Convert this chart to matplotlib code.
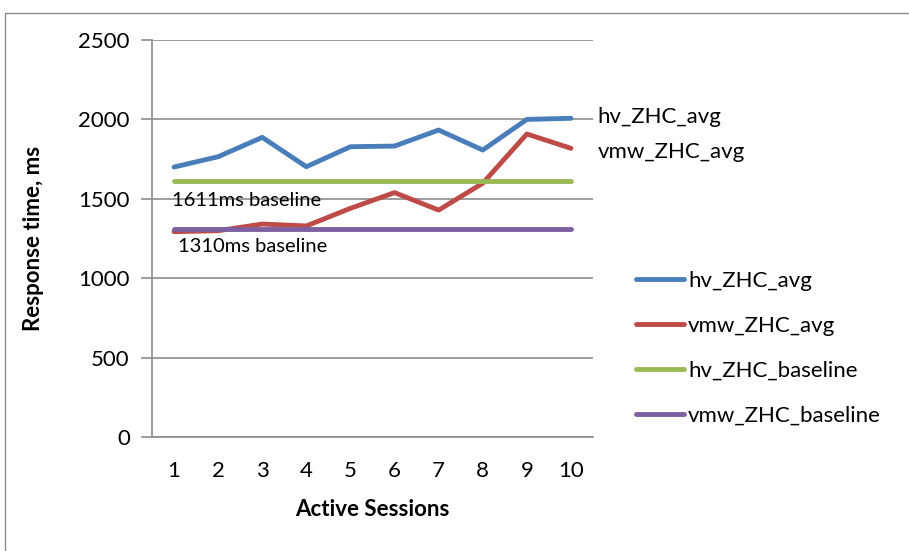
import matplotlib.pyplot as plt
from matplotlib.patches import Rectangle

plt.rcParams['font.family'] = ['Lato', 'DejaVu Sans']

sessions = [1, 2, 3, 4, 5, 6, 7, 8, 9, 10]
hv_avg = [1700, 1765, 1887, 1702, 1828, 1832, 1933, 1807, 2000, 2007]
vmw_avg = [1293, 1299, 1341, 1329, 1440, 1539, 1429, 1598, 1908, 1818]
hv_baseline = [1611] * 10
vmw_baseline = [1310] * 10
series_names = ["hv_ZHC_avg", "vmw_ZHC_avg", "hv_ZHC_baseline", "vmw_ZHC_baseline"]
colors = ["#4a7ebb", "#be4b48", "#98b954", "#7d60a0"]

GRID = "#8c8c8c"
FS = 16

fig = plt.figure(figsize=(9.09, 5.51), dpi=100)
# chart-area frame
fig.patches.append(Rectangle((5 / 909, -0.1), 1.2, 1.1 - 13 / 551,
                             transform=fig.transFigure, fill=False,
                             edgecolor=GRID, linewidth=1.0))

ax = fig.add_axes([152 / 909, 114 / 551, 441 / 909, 397 / 551])

for vals, name, c in zip([hv_avg, vmw_avg, hv_baseline, vmw_baseline], series_names, colors):
    ax.plot(sessions, vals, color=c, linewidth=3.5, solid_capstyle='round',
            solid_joinstyle='round', label=name, zorder=3)

ax.set_xlim(0.5, 10.5)
ax.set_ylim(0, 2500)
ax.set_yticks(range(0, 2501, 500))
ax.set_xticks(sessions)
ax.grid(axis='y', color=GRID, linewidth=1.2)
ax.set_axisbelow(True)
for s in ['top', 'right']:
    ax.spines[s].set_visible(False)
for s in ['left', 'bottom']:
    ax.spines[s].set_color(GRID)
    ax.spines[s].set_linewidth(1.2)
ax.tick_params(axis='y', length=8, width=1.2, color=GRID, labelsize=FS, pad=8)
ax.tick_params(axis='x', length=0, labelsize=FS, pad=17)

ax.set_xlabel("Active Sessions", fontsize=FS, fontweight='bold', labelpad=13)
ax.set_ylabel("Response time, ms", fontsize=FS, fontweight='bold', labelpad=25)

# series name labels at the last point
ax.annotate(series_names[0], (sessions[-1], hv_avg[-1]), xytext=(19, 1),
            textcoords='offset points', va='center', fontsize=FS, annotation_clip=False)
ax.annotate(series_names[1], (sessions[-1], vmw_avg[-1]), xytext=(19, -3),
            textcoords='offset points', va='center', fontsize=FS, annotation_clip=False)

# baseline captions
ax.text(0.95, hv_baseline[0] - 120, "1611ms baseline", va='center', ha='left', fontsize=14.5)
ax.text(1.09, vmw_baseline[0] - 110, "1310ms baseline", va='center', ha='left', fontsize=14.5)

fig.legend(loc='upper left', bbox_to_anchor=(616 / 909, 1 - 251 / 551), frameon=False,
           fontsize=FS, handlelength=2.15, handletextpad=0.2, labelspacing=1.12)

fig.savefig("out.png", dpi=100)
